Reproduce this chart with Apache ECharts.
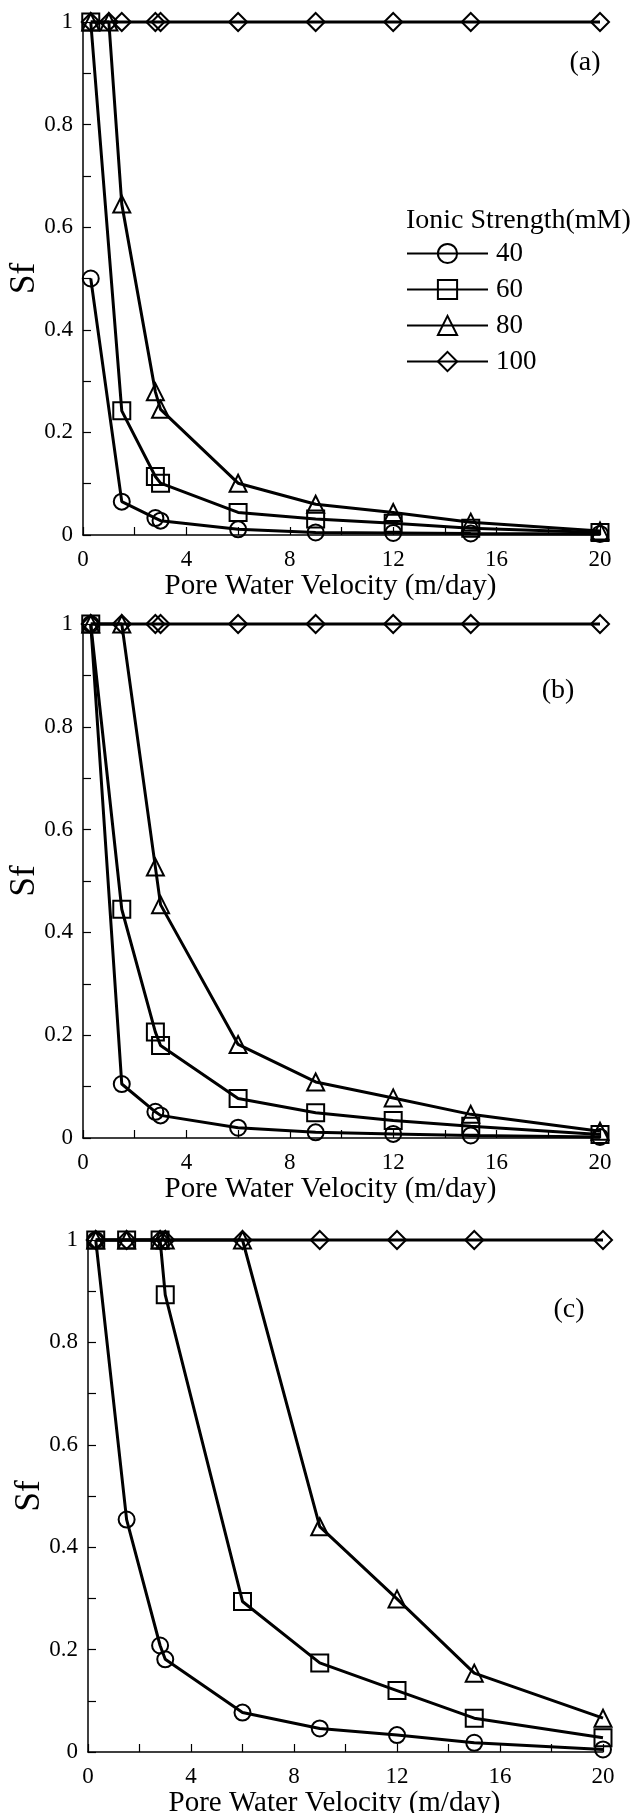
<!DOCTYPE html>
<html>
<head>
<meta charset="utf-8">
<script src="https://cdn.jsdelivr.net/npm/echarts@6/dist/echarts.min.js"></script>
<style>
html,body{margin:0;padding:0;background:#fff;}
#chart{width:637px;height:1813px;}
</style>
</head>
<body>
<div id="chart"></div>
<script>
// ---- data ----
const seriesNames = ['40', '60', '80', '100'];
const symbols = ['circle', 'rect', 'triangle', 'diamond'];
const panelLabels = ['(a)', '(b)', '(c)'];
const legendTitle = 'Ionic Strength(mM)';
const xAxisTitle = 'Pore Water Velocity (m/day)';
const yAxisTitle = 'Sf';

const velA = [0.3, 1.0, 1.5, 2.8, 3, 6, 9, 12, 15, 20];
const sfA40 = [0.50, null, 0.065, 0.033, 0.028, 0.011, 0.005, 0.004, 0.003, 0.002];
const sfA60 = [1, null, 0.242, 0.114, 0.101, 0.044, 0.031, 0.023, 0.013, 0.005];
const sfA80 = [1, 1, 0.645, 0.279, 0.245, 0.101, 0.060, 0.044, 0.025, 0.008];
const sfA100 = [1, 1, 1, 1, 1, 1, 1, 1, 1, 1];

const velB = [0.3, 1.5, 2.8, 3, 6, 9, 12, 15, 20];
const sfB40 = [1, 0.105, 0.051, 0.044, 0.020, 0.011, 0.008, 0.005, 0.002];
const sfB60 = [1, 0.445, 0.206, 0.180, 0.077, 0.049, 0.034, 0.023, 0.007];
const sfB80 = [1, 1, 0.527, 0.454, 0.182, 0.109, 0.078, 0.046, 0.013];
const sfB100 = [1, 1, 1, 1, 1, 1, 1, 1, 1];

const velC = [0.3, 1.5, 2.8, 3, 6, 9, 12, 15, 20];
const sfC40 = [1, 0.454, 0.208, 0.181, 0.077, 0.046, 0.033, 0.018, 0.005];
const sfC60 = [1, 1, 1, 0.893, 0.294, 0.174, 0.120, 0.066, 0.028];
const sfC80 = [1, 1, 1, 1, 1, 0.440, 0.299, 0.154, 0.066];
const sfC100 = [1, 1, 1, 1, 1, 1, 1, 1, 1];

const xTickInterval = 4;
const yTickInterval = 0.2;

// ---- build ----
const panels = [
  {vel: velA, sets: [sfA40, sfA60, sfA80, sfA100]},
  {vel: velB, sets: [sfB40, sfB60, sfB80, sfB100]},
  {vel: velC, sets: [sfC40, sfC60, sfC80, sfC100]}
];

const FONT = '"Liberation Serif", "DejaVu Serif", serif';
const grids = [
  {left: 83, right: 37, top: 22, height: 513},
  {left: 83, right: 37, top: 624, height: 514},
  {left: 88, right: 34, top: 1240, height: 512}
];

const symSizes = [16, 17, 17, 18];

function pairs(vel, vals) {
  const out = [];
  vel.forEach((v, i) => { if (vals[i] !== null && vals[i] !== undefined) out.push([v, vals[i]]); });
  return out;
}

const series = [];
panels.forEach((p, gi) => {
  p.sets.forEach((vals, si) => {
    series.push({
      type: 'line',
      name: seriesNames[si],
      xAxisIndex: gi,
      yAxisIndex: gi,
      data: pairs(p.vel, vals),
      symbol: symbols[si],
      symbolSize: symSizes[si],
      showAllSymbol: true,
      clip: false,
      lineStyle: {color: '#000', width: 3},
      itemStyle: {color: 'rgba(0,0,0,0)', borderColor: '#000', borderWidth: 2},
      emphasis: {disabled: true},
      animation: false,
      z: 2 + si
    });
  });
});

const axisCommon = {
  axisLine: {show: true, onZero: false, lineStyle: {color: '#000', width: 1.5}},
  axisTick: {show: true, inside: true, length: 8, lineStyle: {color: '#000', width: 1.2}},
  minorTick: {show: true, splitNumber: 2, length: 8, lineStyle: {color: '#000', width: 1.2}},
  splitLine: {show: false},
  minorSplitLine: {show: false}
};

const xAxes = grids.map((g, i) => Object.assign({}, axisCommon, {
  type: 'value', gridIndex: i, min: 0, max: 20, interval: xTickInterval,
  name: xAxisTitle, nameLocation: 'middle', nameGap: 37, nameMoveOverlap: false,
  nameTextStyle: {fontFamily: FONT, fontSize: 29, color: '#000', padding: [0, 22, 0, 0]},
  axisLabel: {fontFamily: FONT, fontSize: 23, color: '#000', margin: 13}
}));
const yAxes = grids.map((g, i) => Object.assign({}, axisCommon, {
  type: 'value', gridIndex: i, min: 0, max: 1, interval: yTickInterval,
  name: yAxisTitle, nameLocation: 'middle', nameGap: 41, nameMoveOverlap: false,
  nameTextStyle: {fontFamily: FONT, fontSize: 35, color: '#000'},
  axisLabel: {fontFamily: FONT, fontSize: 23, color: '#000', margin: 10}
}));

const panelPos = [[585, 63], [558, 691], [569, 1310]];
const graphics = panelLabels.map((t, i) => ({
  type: 'text', x: panelPos[i][0], y: panelPos[i][1],
  style: {text: t, fontFamily: FONT, fontSize: 28, fill: '#000', textAlign: 'center', textVerticalAlign: 'middle'}
}));
graphics.push({
  type: 'text', x: 406, y: 221,
  style: {text: legendTitle, fontFamily: FONT, fontSize: 28, fill: '#000', textAlign: 'left', textVerticalAlign: 'middle'}
});

const option = {
  backgroundColor: '#fff',
  animation: false,
  grid: grids.map(g => Object.assign({containLabel: false, outerBoundsMode: 'none'}, g)),
  xAxis: xAxes,
  yAxis: yAxes,
  legend: {
    orient: 'vertical', left: 401, top: 235,
    data: seriesNames,
    itemWidth: 81, itemHeight: 24, itemGap: 9,
    selectedMode: false,
    textStyle: {fontFamily: FONT, fontSize: 27, color: '#000', padding: [0, 0, 0, 3]}
  },
  graphic: graphics,
  series: series
};

const chart = echarts.init(document.getElementById('chart'), null, {renderer: 'canvas'});
chart.setOption(option);
</script>
</body>
</html>
